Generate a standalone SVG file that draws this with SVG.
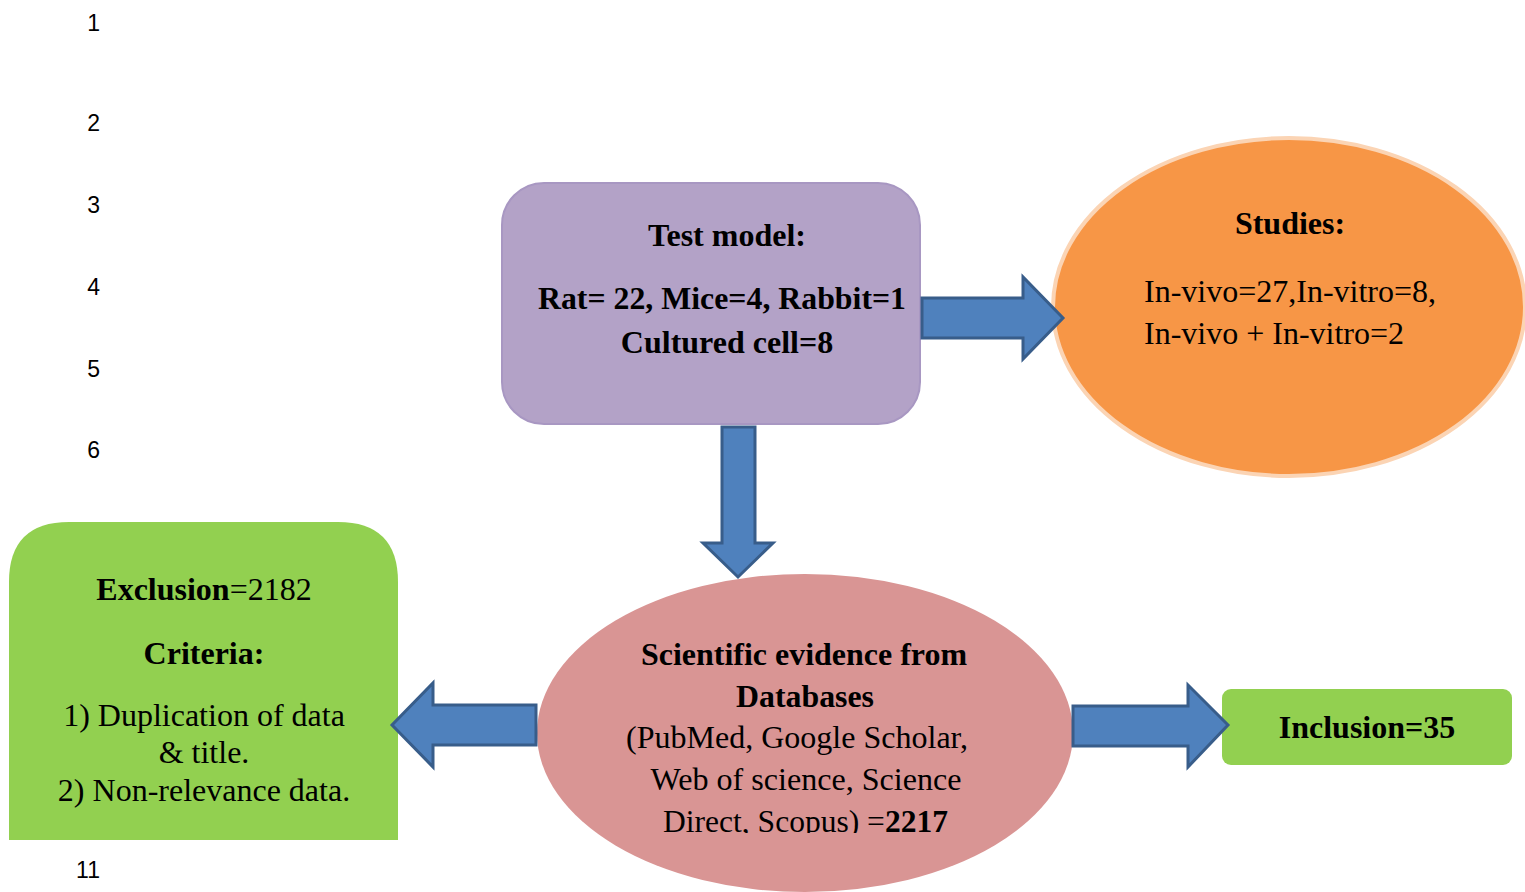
<svg xmlns="http://www.w3.org/2000/svg" width="1525" height="892" viewBox="0 0 1525 892">
<defs>
<style>
.ln{font-family:"Liberation Sans",Arial,sans-serif;font-size:23px;fill:#000;text-anchor:end}
.t{font-family:"Liberation Serif","Times New Roman",serif;font-size:32px;fill:#000}
.b{font-weight:bold}
.c{text-anchor:middle}
.arrow{fill:#4F81BD;stroke:#385D8A;stroke-width:3;stroke-linejoin:miter}
</style>
<clipPath id="pinkclip"><rect x="0" y="0" width="1525" height="833"/></clipPath>
</defs>
<rect width="1525" height="892" fill="#fff"/>
<g id="line-numbers">
<text class="ln" x="100" y="31">1</text>
<text class="ln" x="100" y="131">2</text>
<text class="ln" x="100" y="213">3</text>
<text class="ln" x="100" y="295">4</text>
<text class="ln" x="100" y="377">5</text>
<text class="ln" x="100" y="458">6</text>
<text class="ln" x="100" y="878">11</text>
</g>
<g id="studies">
<ellipse cx="1289" cy="307" rx="236" ry="169" fill="#F79646" stroke="#FBD4B4" stroke-width="4"/>
<text class="t b c" x="1290" y="234">Studies:</text>
<text class="t" x="1144" y="302">In-vivo=27,In-vitro=8,</text>
<text class="t" x="1144" y="344">In-vivo + In-vitro=2</text>
</g>
<g id="databases">
<ellipse cx="805" cy="733" rx="268" ry="159" fill="#D99594"/>
<g clip-path="url(#pinkclip)">
<text class="t b c" x="804" y="665" textLength="326" lengthAdjust="spacingAndGlyphs">Scientific evidence from</text>
<text class="t b c" x="805" y="707" textLength="138" lengthAdjust="spacingAndGlyphs">Databases</text>
<text class="t c" x="797" y="748" textLength="342" lengthAdjust="spacingAndGlyphs">(PubMed, Google Scholar,</text>
<text class="t c" x="806" y="790" textLength="311" lengthAdjust="spacingAndGlyphs">Web of science, Science</text>
<text class="t" x="663" y="832" textLength="285" lengthAdjust="spacingAndGlyphs">Direct, Scopus) =<tspan class="b">2217</tspan></text>
</g>
</g>
<g id="test-model">
<rect x="502" y="183" width="418" height="241" rx="42" ry="42" fill="#B3A2C7" stroke="#A897C2" stroke-width="2"/>
<text class="t b c" x="727" y="246">Test model:</text>
<text class="t b c" x="722" y="309" textLength="368" lengthAdjust="spacingAndGlyphs">Rat= 22, Mice=4, Rabbit=1</text>
<text class="t b c" x="727" y="353">Cultured cell=8</text>
</g>
<g id="exclusion">
<path d="M9,840 L9,582 Q9,522 69,522 L338,522 Q398,522 398,582 L398,840 Z" fill="#92D050"/>
<text class="t c" x="204" y="600"><tspan class="b">Exclusion</tspan>=2182</text>
<text class="t b c" x="204" y="664">Criteria:</text>
<text class="t c" x="204" y="726">1) Duplication of data</text>
<text class="t c" x="204" y="763">&amp; title.</text>
<text class="t c" x="204" y="801">2) Non-relevance data.</text>
</g>
<g id="inclusion">
<rect x="1222" y="689" width="290" height="76" rx="9" ry="9" fill="#92D050"/>
<text class="t b c" x="1367" y="738">Inclusion=35</text>
</g>
<g id="connectors">
<path class="arrow" d="M922,298 L1023,298 L1023,277 L1063,318 L1023,359 L1023,338 L922,338 Z"/>
<path class="arrow" d="M722,427 L755,427 L755,543 L773,543 L738,577 L703,543 L722,543 Z"/>
<path class="arrow" d="M536,705 L433,705 L433,683 L392,725 L433,767 L433,745 L536,745 Z"/>
<path class="arrow" d="M1073,706 L1188,706 L1188,685 L1228,725 L1188,767 L1188,746 L1073,746 Z"/>
</g>
</svg>
